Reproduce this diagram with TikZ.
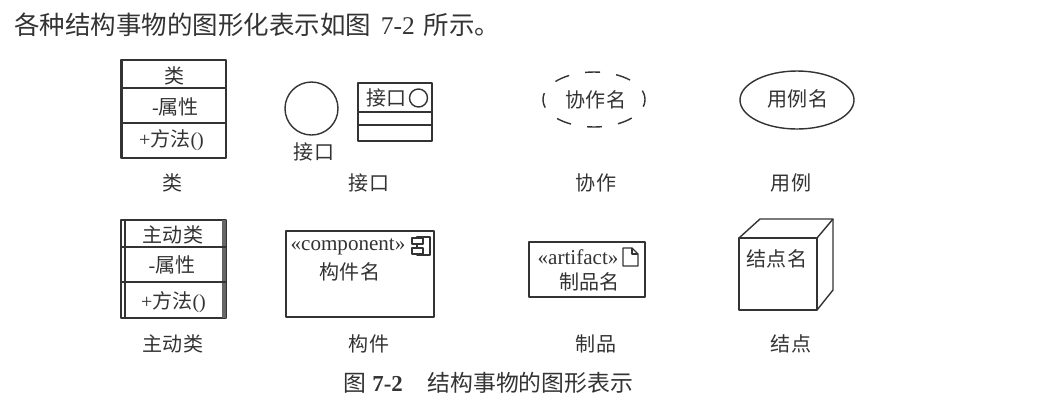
\documentclass[tikz,border=0pt]{standalone}
\usepackage{fontspec}
\setmainfont{Liberation Serif}
\newfontfamily\cjk{Noto Sans CJK SC}
\usetikzlibrary{positioning}
\definecolor{tinta}{HTML}{333333}
\tikzset{
  linha/.style={draw=tinta,line width=0.8pt,line join=round},
  grossa/.style={draw=tinta!75,line width=2pt},
  texto/.style={text=tinta,font=\fontsize{11.4pt}{13pt}\selectfont,inner sep=0pt},
  tipo/.style={text=tinta,font=\fontsize{12pt}{14pt}\selectfont,inner sep=0pt},
  legenda/.style={text=tinta,font=\fontsize{11.4pt}{13pt}\selectfont\cjk,inner sep=0pt},
}
\begin{document}
\begin{tikzpicture}[x=0.02cm,y=-0.02cm]
\useasboundingbox (0,0) rectangle (1042,414);

% linha de cima
\node[texto,anchor=west,font=\fontsize{14.5pt}{17pt}\selectfont] (titulo) at (14,25)
  {{\cjk 各种结构事物的图形化表示如图}\hspace{2pt} 7-2\hspace{1.5pt} {\cjk 所示。}};

% classe
\draw[linha] (121,60) rectangle (226,158);
\draw[linha,line width=1.3pt] (121.5,60) -- (121.5,158);
\draw[linha] (121,88) -- (226,88);
\draw[linha] (121,123) -- (226,123);
\node[legenda] (classeNome) at (175,76) {类};
\node[texto] (classeAttr) at (175.5,107) {-{\cjk 属性}};
\node[texto] (classeOp) at (171.5,140) {+{\cjk 方法}()};

% interface
\draw[linha] (311.5,108.5) circle (26.5);
\node[legenda] (intNome) at (314,152) {接口};
\draw[linha] (358,83) rectangle (432,141);
\draw[linha] (358,112) -- (432,112);
\draw[linha] (358,125) -- (432,125);
\node[legenda] (intCaixa) at (386.5,98) {接口};
\draw[linha] (418.5,98) circle (9);

% colaboracao
\draw[linha,dash pattern=on 8.5pt off 9.3pt,dash phase=4.25pt] (594,99.5) ellipse [x radius=51,y radius=27.5];
\node[legenda] (colabNome) at (596,100) {协作名};

% caso de uso
\draw[linha] (797,100) ellipse [x radius=57,y radius=29];
\node[legenda] (casoNome) at (798,99) {用例名};

% legendas da primeira fila
\node[legenda] (legClasse) at (173,183) {类};
\node[legenda] (legInt) at (369,183) {接口};
\node[legenda] (legColab) at (596,183) {协作};
\node[legenda] (legCaso) at (791,183) {用例};

% classe ativa
\draw[linha] (121,220) rectangle (226,318);
\draw[linha] (125,220) -- (125,318);
\draw[grossa] (224,220) -- (224,318);
\draw[linha] (121,247) -- (226,247);
\draw[linha] (121,282) -- (226,282);
\node[legenda] (ativaNome) at (173,235) {主动类};
\node[texto] (ativaAttr) at (172,265) {-{\cjk 属性}};
\node[texto] (ativaOp) at (173.5,302) {+{\cjk 方法}()};

% componente
\draw[linha] (286,231) rectangle (434,317);
\node[tipo] (compTipo) at (348,247) {«component»};
\node[legenda] (compNome) at (350,272) {构件名};
\draw[linha] (417,237) rectangle (430,255);
\draw[linha,fill=white] (412,238) rectangle (423,244);
\draw[linha,fill=white] (412,248) rectangle (423,254);

% artefato
\draw[linha] (529,242) rectangle (645,297);
\node[tipo] (artTipo) at (578,257) {«artifact»};
\node[legenda] (artNome) at (589.5,282) {制品名};
\draw[linha] (623,248) -- (632,248) -- (638,254) -- (638,266) -- (623,266) -- cycle;
\draw[linha] (632,248) -- (632,254) -- (638,254);

% no
\draw[linha] (739,238) rectangle (817,310);
\draw[linha] (739,238) -- (760,219) -- (833,219) -- (817,238);
\draw[linha] (833,219) -- (833,290) -- (817,310);
\node[legenda] (noNome) at (777,259) {结点名};

% legendas da segunda fila
\node[legenda] (legAtiva) at (173,344) {主动类};
\node[legenda] (legComp) at (369,344) {构件};
\node[legenda] (legArt) at (596,344) {制品};
\node[legenda] (legNo) at (791,344) {结点};

% titulo da figura
\node[texto,font=\fontsize{13pt}{15pt}\selectfont] (figura) at (488.5,383)
  {{\cjk 图} \textbf{7-2}\hspace{14pt}{\cjk 结构事物的图形表示}};

\end{tikzpicture}
\end{document}
